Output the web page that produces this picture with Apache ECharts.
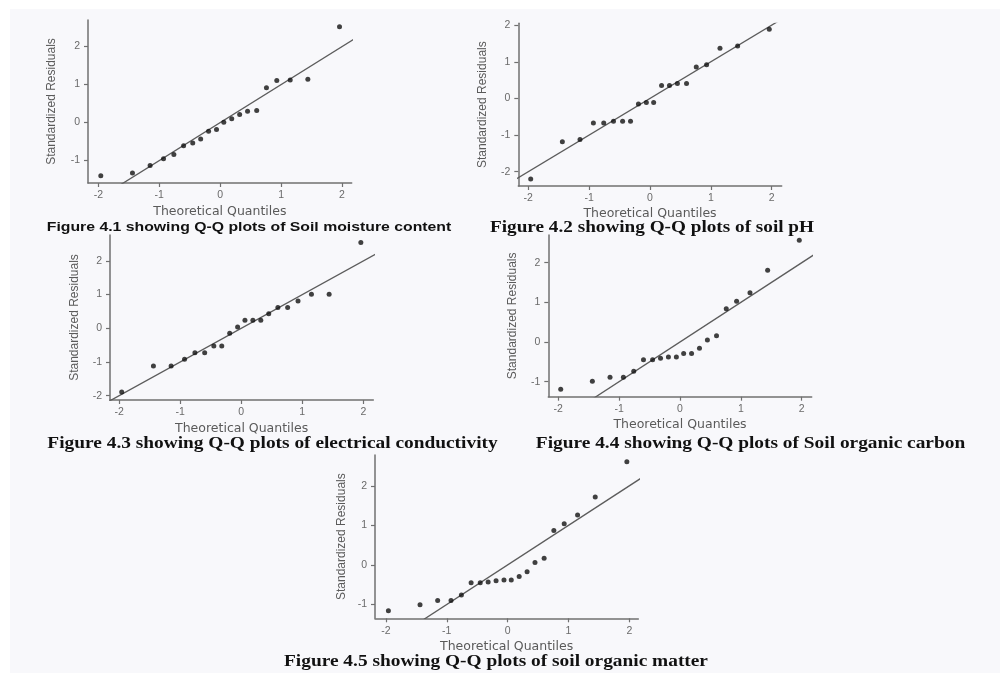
<!DOCTYPE html>
<html>
<head>
<meta charset="utf-8">
<script src="https://cdn.jsdelivr.net/npm/echarts@6/dist/echarts.min.js"></script>
<style>
html,body{margin:0;padding:0;background:#fff;}
#chart{width:1000px;height:673px;}
</style>
</head>
<body>
<div id="chart"></div>
<script>
// Theoretical normal quantiles (x positions shared by all five plots)
const quantiles = [-1.96,-1.44,-1.15,-0.93,-0.76,-0.60,-0.45,-0.32,-0.19,-0.06,0.06,0.19,0.32,0.45,0.60,0.76,0.93,1.15,1.44,1.96];
// Standardized residuals
const moistureResid = [-1.40,-1.33,-1.13,-0.95,-0.84,-0.61,-0.54,-0.43,-0.23,-0.18,0.01,0.10,0.21,0.30,0.32,0.92,1.11,1.12,1.14,2.52];
const phResid = [-2.20,-1.18,-1.12,-0.67,-0.67,-0.62,-0.62,-0.62,-0.15,-0.11,-0.11,0.35,0.35,0.41,0.41,0.86,0.92,1.37,1.43,1.89];
const ecResid = [-1.89,-1.12,-1.12,-0.92,-0.73,-0.73,-0.53,-0.53,-0.15,0.04,0.24,0.24,0.24,0.43,0.62,0.62,0.81,1.01,1.01,2.55];
const socResid = [-1.19,-0.99,-0.89,-0.89,-0.74,-0.45,-0.45,-0.41,-0.38,-0.38,-0.29,-0.29,-0.16,0.05,0.16,0.84,1.03,1.24,1.81,2.57];
const somResid = [-1.16,-1.01,-0.90,-0.90,-0.76,-0.45,-0.45,-0.43,-0.40,-0.38,-0.38,-0.29,-0.17,0.06,0.17,0.87,1.04,1.26,1.72,2.61];
// 45-degree reference line endpoints (y = x)
const refLine = [[-3,-3],[3,3]];
// Tick labels
const xTicks = [-2,-1,0,1,2];
const yTicksA = [-1,0,1,2];
const yTicksB = [-2,-1,0,1,2];
// Texts
const xName = 'Theoretical Quantiles';
const yName = 'Standardized Residuals';
const captions = [
  'Figure 4.1 showing Q-Q plots of Soil moisture content',
  'Figure 4.2 showing Q-Q plots of soil pH',
  'Figure 4.3 showing Q-Q plots of electrical conductivity',
  'Figure 4.4 showing Q-Q plots of Soil organic carbon',
  'Figure 4.5 showing Q-Q plots of soil organic matter'
];

const panels = [
  {resid: moistureResid, yTicks: yTicksA, grid:{left:88, top:20, width:263.7, height:163}, xr:[-2.17,2.16], yr:[-1.59,2.70], yGap:30, xGap:22,
   cap:{x:249, y:227, font:'bold 13.5px "Liberation Sans", Arial, sans-serif', sx:1.17}},
  {resid: phResid, yTicks: yTicksB, grid:{left:518.3, top:23.3, width:263.4, height:162.7}, xr:[-2.164,2.164], yr:[-2.39,2.05], yGap:29.5, xGap:21,
   cap:{x:652, y:228, font:'bold 16px "Liberation Serif", "Times New Roman", serif', sx:1.2}},
  {resid: ecResid, yTicks: yTicksB, grid:{left:110, top:235, width:263.3, height:165}, xr:[-2.152,2.164], yr:[-2.13,2.77], yGap:29, xGap:22,
   cap:{x:272.5, y:443.5, font:'bold 16px "Liberation Serif", "Times New Roman", serif', sx:1.21}},
  {resid: socResid, yTicks: yTicksA, grid:{left:548.3, top:235, width:263.4, height:161.7}, xr:[-2.164,2.164], yr:[-1.38,2.70], yGap:29.5, xGap:22,
   cap:{x:750.5, y:444, font:'bold 16px "Liberation Serif", "Times New Roman", serif', sx:1.21}},
  {resid: somResid, yTicks: yTicksA, grid:{left:375, top:455, width:263.3, height:163.3}, xr:[-2.18,2.148], yr:[-1.35,2.78], yGap:27, xGap:22,
   cap:{x:496, y:661.5, font:'bold 16px "Liberation Serif", "Times New Roman", serif', sx:1.21}}
];

const axisColor = '#707070';
const grids = [], xAxes = [], yAxes = [], series = [], graphics = [];

graphics.push({type:'rect', z:-100, silent:true, shape:{x:0, y:0, width:1000, height:9}, style:{fill:'#ffffff'}});
graphics.push({type:'rect', z:-100, silent:true, shape:{x:0, y:0, width:10, height:673}, style:{fill:'#ffffff'}});

panels.forEach((p, i) => {
  grids.push(Object.assign({outerBoundsMode:'none', containLabel:false}, p.grid));
  xAxes.push({
    type:'value', gridIndex:i, min:p.xr[0], max:p.xr[1],
    name:xName, nameLocation:'middle', nameGap:p.xGap,
    nameTextStyle:{color:'#5a5a5a', fontSize:12.5, fontFamily:'"DejaVu Sans", "Liberation Sans", sans-serif'},
    axisLine:{show:true, onZero:false, lineStyle:{color:axisColor, width:1.5}},
    axisTick:{show:true, inside:false, length:4, customValues:xTicks, lineStyle:{color:axisColor, width:1.2}},
    axisLabel:{customValues:xTicks, margin:7, color:'#6a6a6a', fontSize:10.5, fontFamily:'"Liberation Sans", Arial, sans-serif'},
    splitLine:{show:false}
  });
  yAxes.push({
    type:'value', gridIndex:i, min:p.yr[0], max:p.yr[1],
    name:yName, nameLocation:'middle', nameGap:p.yGap, nameRotate:90,
    nameTextStyle:{color:'#5a5a5a', fontSize:12, fontFamily:'"Liberation Sans", Arial, sans-serif'},
    axisLine:{show:true, onZero:false, lineStyle:{color:axisColor, width:1.5}},
    axisTick:{show:true, inside:false, length:4, customValues:p.yTicks, lineStyle:{color:axisColor, width:1.2}},
    axisLabel:{customValues:p.yTicks, margin:8, color:'#6a6a6a', fontSize:10.5, fontFamily:'"Liberation Sans", Arial, sans-serif'},
    splitLine:{show:false}
  });
  series.push({
    type:'line', xAxisIndex:i, yAxisIndex:i, data:refLine, clip:true,
    symbol:'none', silent:true, lineStyle:{color:'#5c5c5c', width:1.3}, z:2
  });
  series.push({
    type:'scatter', xAxisIndex:i, yAxisIndex:i,
    data:quantiles.map((q, k) => [q, p.resid[k]]),
    symbol:'circle', symbolSize:5, itemStyle:{color:'#111111'}, z:3
  });
  graphics.push({
    type:'text', x:p.cap.x, y:p.cap.y, scaleX:p.cap.sx, scaleY:1, z:10,
    style:{text:captions[i], x:0, y:0, font:p.cap.font, fill:'#111111', align:'center', verticalAlign:'middle'}
  });
});

const chart = echarts.init(document.getElementById('chart'), null, {renderer:'canvas'});
chart.setOption({
  animation:false,
  backgroundColor:'#f8f8fb',
  grid:grids,
  xAxis:xAxes,
  yAxis:yAxes,
  series:series,
  graphic:graphics
});
</script>
</body>
</html>
